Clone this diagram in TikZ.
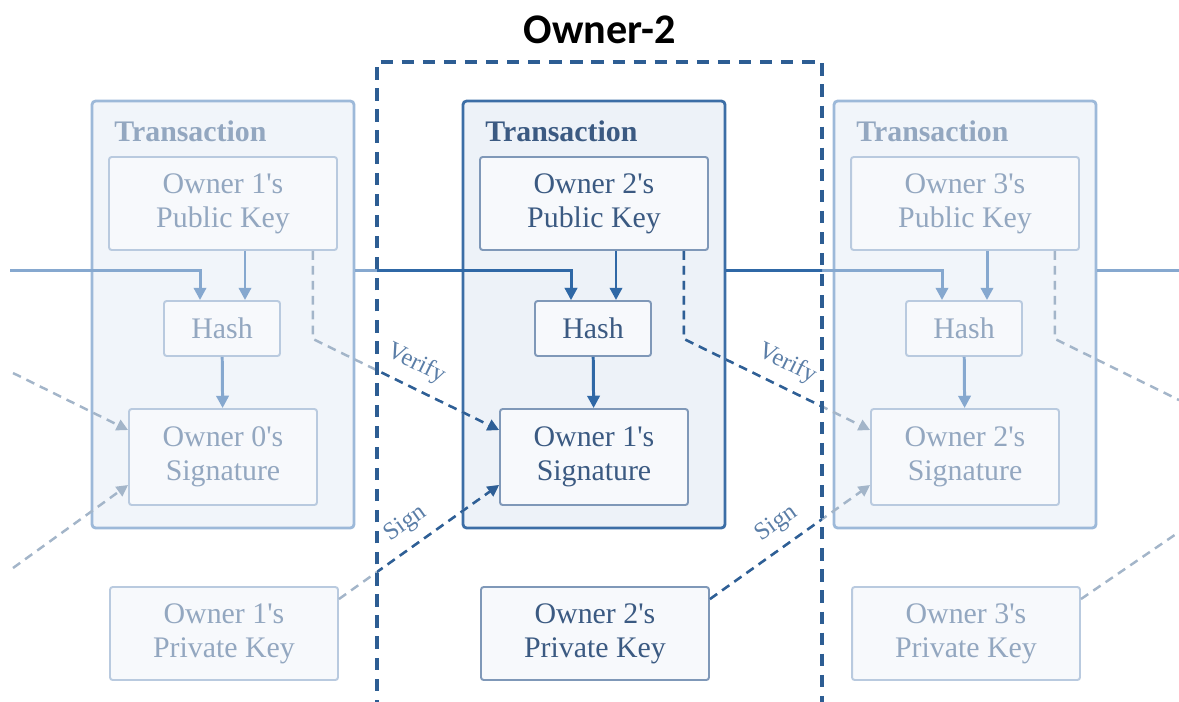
\documentclass[tikz,border=0pt]{standalone}
\usepackage{fontspec}
\setmainfont{Liberation Serif}[Ligatures = TeXOff]
\newfontfamily\headfont{Carlito}
\usetikzlibrary{arrows.meta, positioning}

\definecolor{fadedEdge}{HTML}{9DB9D9}
\definecolor{fadedBox}{HTML}{B9CADF}
\definecolor{fadedInk}{HTML}{93A7C0}
\definecolor{fadedArrow}{HTML}{86A8CF}
\definecolor{fadedFill}{HTML}{F1F5FA}
\definecolor{fadedLink}{HTML}{A3B5C9}
\definecolor{focusEdge}{HTML}{3C6EA6}
\definecolor{focusBox}{HTML}{7F98B8}
\definecolor{focusInk}{HTML}{3B5A82}
\definecolor{focusArrow}{HTML}{2F68A6}
\definecolor{focusFill}{HTML}{EDF2F8}
\definecolor{focusLink}{HTML}{2E5F96}
\definecolor{boxFill}{HTML}{F7F9FC}
\definecolor{tagInk}{HTML}{5B7EA7}
\definecolor{frameInk}{HTML}{2D5D93}

\tikzset{
	ledger/.is family,
	ledger/.cd,
	faded/.code = {%
		\colorlet{txEdge}{fadedEdge}\colorlet{txBox}{fadedBox}\colorlet{txInk}{fadedInk}%
		\colorlet{txArrow}{fadedArrow}\colorlet{txFill}{fadedFill}\colorlet{txLink}{fadedLink}%
	},
	focus/.code = {%
		\colorlet{txEdge}{focusEdge}\colorlet{txBox}{focusBox}\colorlet{txInk}{focusInk}%
		\colorlet{txArrow}{focusArrow}\colorlet{txFill}{focusFill}\colorlet{txLink}{focusLink}%
	},
	transaction/.style = {
		draw = txEdge,
		fill = txFill,
		line width = 1.6pt,
		rounded corners = 2pt,
		inner sep = 0pt,
		minimum width = 5.24cm,
		minimum height = 8.54cm,
	},
	heading/.style = {
		anchor = base west,
		inner sep = 0pt,
		text = txInk,
		font = \fontsize{17}{19.5}\selectfont\bfseries,
	},
	box/.style = {
		draw = txBox,
		fill = boxFill,
		line width = 1.1pt,
		rounded corners = 1.5pt,
		inner sep = 0pt,
		align = center,
		text = txInk,
		font = \fontsize{17}{19.5}\selectfont,
	},
	flow/.style = {
		draw = txArrow,
		line width = 1.7pt,
		-{Triangle[length = 7pt, width = 7pt]},
	},
	check/.style = {
		draw = txLink,
		line width = 1.4pt,
		dash pattern = on 5pt off 3.5pt,
		-{Triangle[length = 6.5pt, width = 6.5pt]},
	},
	tag/.style = {
		text = tagInk,
		inner sep = 1pt,
		sloped,
		above = 5pt,
		font = \fontsize{14}{16}\selectfont,
	},
	frame/.style = {
		draw = frameInk,
		line width = 2pt,
		dash pattern = on 7pt off 5pt,
	},
	title/.style = {
		text = black,
		font = \headfont\bfseries\fontsize{24}{28}\selectfont,
	},
}

% connectors between the transactions, #1 and #2 are the labels put on verify and sign
\newcommand{\txlinks}[2]{%
	\draw[ledger/flow] (bus-0) -| (hash-1-left);
	\foreach \i [evaluate = \i as \j using int(\i + 1)] in {1, 2}{
		\draw[ledger/check] (vfy-\i) -- ++(0, 88) -- #1 (sig-\j-v);
		\draw[ledger/check] (sgn-\i) -- #2 (sig-\j-s);
		\draw[ledger/flow] (bus-\i) -| (hash-\j-left);
	}
	% loose ends at the page border
	\draw[ledger/check] (vfy-in) -- (sig-1-v);
	\draw[ledger/check] (sgn-in) -- (sig-1-s);
	\draw[ledger/flow, -] (bus-3) -- (bus-out);
	\draw[ledger/check, -] (vfy-3) -- ++(0, 88) -- (vfy-out);
	\draw[ledger/check, -] (sgn-3) -- (sgn-out);
}

\begin{document}
\begin{tikzpicture}[x = 0.02cm, y = -0.02cm]
	\useasboundingbox (0, 0) rectangle (1179, 701);
	\coordinate (frame-nw) at (377, 62);
	\coordinate (frame-se) at (822, 712);
	\foreach \i/\tone [evaluate = \i as \prev using int(\i - 1)] in {1/faded, 2/focus, 3/faded}{
		\begin{scope}[shift = {({(\i - 2) * 371}, 0)}, ledger/\tone]
			\node[ledger/transaction] (tx-\i) at (594, 314.5) {};
			\node[ledger/heading] (head-\i) at (485, 141) {Transaction};
			\node[ledger/box, minimum width = 4.56cm, minimum height = 1.86cm] (pub-\i) at (594, 203.5) {Owner \i's\\Public Key};
			\node[ledger/box, minimum width = 2.32cm, minimum height = 1.10cm] (hash-\i) at (593, 328.5) {Hash};
			\node[ledger/box, minimum width = 3.76cm, minimum height = 1.92cm] (sig-\i) at (594, 457) {Owner \prev's\\Signature};
			\node[ledger/box, minimum width = 4.56cm, minimum height = 1.86cm] (priv-\i) at (595, 633.5) {Owner \i's\\Private Key};
			\coordinate (bus-\i) at (tx-\i.east |- 0, 270);
			\coordinate (hash-\i-left) at ([xshift = -0.44cm]hash-\i.north);
			\coordinate (hash-\i-right) at ([xshift = 0.46cm]hash-\i.north);
			\coordinate (vfy-\i) at ([xshift = -0.5cm]pub-\i.south east);
			\coordinate (sig-\i-v) at ([yshift = 0.54cm]sig-\i.west);
			\coordinate (sig-\i-s) at ([yshift = -0.56cm]sig-\i.west);
			\coordinate (sgn-\i) at ([yshift = -0.26cm]priv-\i.north east);
			\draw[ledger/flow] (pub-\i.south -| hash-\i-right) -- (hash-\i-right);
			\draw[ledger/flow] (hash-\i) -- (sig-\i);
		\end{scope}
	}
	\coordinate (bus-0) at (10, 270);
	\coordinate (bus-out) at (1179, 270);
	\coordinate (vfy-in) at (13, 373);
	\coordinate (sgn-in) at (13, 568);
	\coordinate (vfy-out) at (1179, 400);
	\coordinate (sgn-out) at (1179, 532);
	\begin{scope}[ledger/faded]
		\txlinks{node[ledger/tag, pos = .5] {Verify}}{node[ledger/tag, pos = .5] {Sign}}
	\end{scope}
	% inside the owner's frame the links are drawn dark
	\begin{scope}[ledger/focus]
		\clip (frame-nw) rectangle (frame-se);
		\txlinks{}{}
	\end{scope}
	\draw[ledger/frame] (frame-nw |- frame-se) -- (frame-nw) -| (frame-se);
	\node[ledger/title] (owner) at (600, 30) {Owner-2};
\end{tikzpicture}
\end{document}
